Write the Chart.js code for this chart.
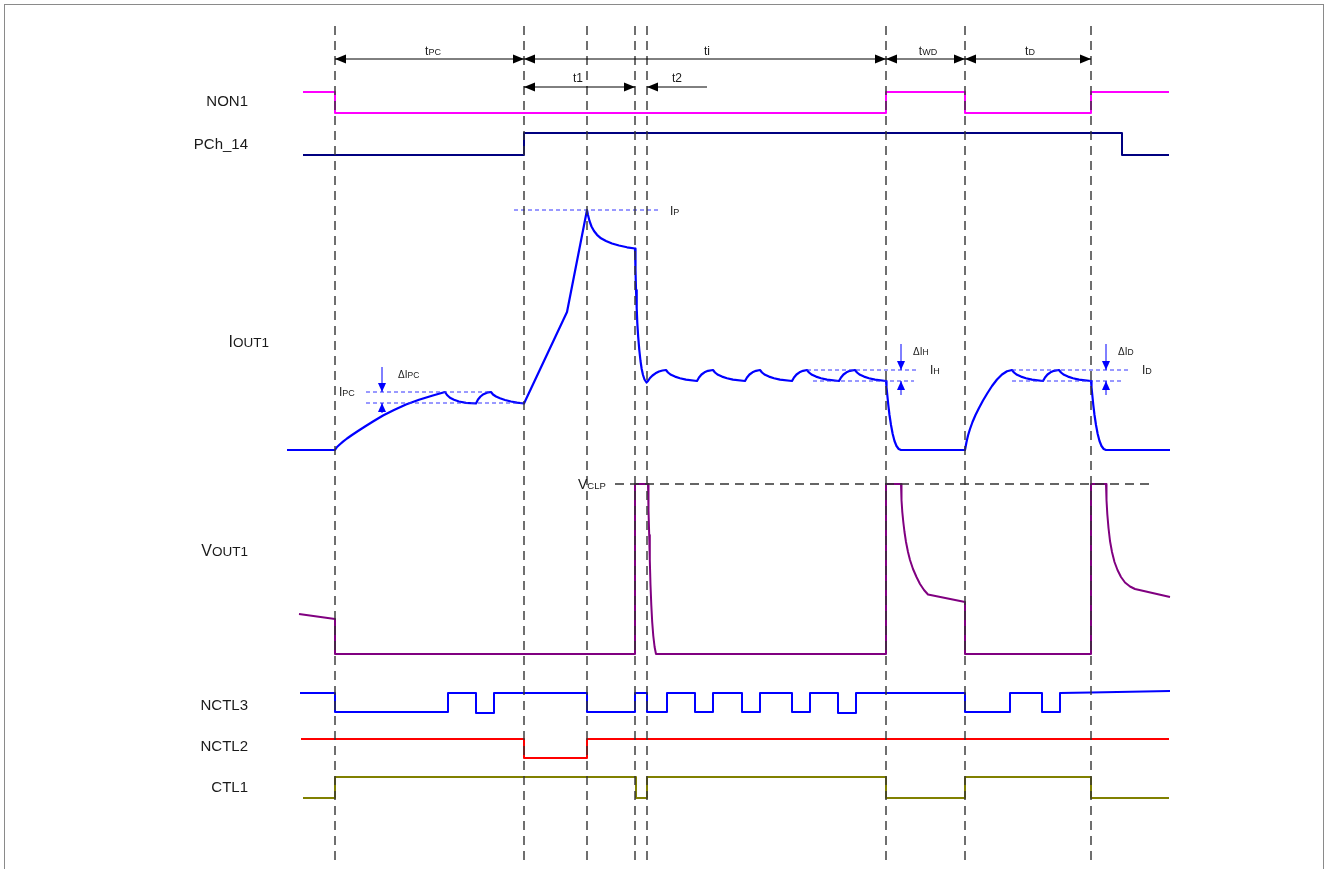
<!DOCTYPE html>
<html>
<head>
<meta charset="utf-8">
<script src="https://cdn.jsdelivr.net/npm/chart.js@4/dist/chart.umd.min.js"></script>
<style>
  html, body { margin: 0; padding: 0; background: #fff; }
  #wrap { width: 1328px; height: 869px; position: relative; }
</style>
</head>
<body>
<div id="wrap"><canvas id="timing"></canvas></div>
<script>
// timing events (dashed markers) on the time axis
const markers = [335, 524, 587, 635, 647, 886, 965, 1091];

// signal names, top to bottom
const signalNames = ['NON1', 'PCh_14', 'IOUT1', 'VOUT1', 'NCTL3', 'NCTL2', 'CTL1'];

// waveforms as [time, level] pairs (level axis grows downward)
const non1 = [[303, 92], [335, 92], [335, 113], [886, 113], [886, 92], [965, 92], [965, 113],
  [1091, 113], [1091, 92], [1169, 92]];

const pch14 = [[303, 155], [524, 155], [524, 133], [1122, 133], [1122, 155], [1169, 155]];

const iout1 = [[287, 450], [335, 450],
  [337, 447], [340, 444.3], [343, 441.7], [347, 438.5], [352, 435], [358, 431], [365, 426.5],
  [373, 421.5], [383, 415.5], [394, 410], [406, 404.5], [419, 399.7], [432, 395.7], [445, 392],
  [447, 395], [450, 397.8], [454, 399.8], [459, 401.5], [466, 402.8], [476, 403.5],
  [478, 399.5], [480.5, 396.5], [483.5, 394.2], [487, 392.7], [491, 392],
  [493, 394.5], [496, 396.5], [500, 398.3], [505, 400], [511, 401.5], [517, 402.6], [524, 403.5],
  [567, 312], [587, 210],
  [588, 215], [589.5, 221], [591.5, 226.5], [594, 231], [597, 234.8], [601, 238.3], [606, 241],
  [612, 243.5], [619, 245.5], [627, 247.3], [635, 248.5],
  [635.5, 270], [636, 290], [636.7, 308], [637.3, 323], [638.2, 337], [639.3, 350], [640.5, 361],
  [641.7, 369], [643, 375], [644.5, 379.5], [646.5, 382.5],
  [648, 381], [650, 378], [652.5, 375.5], [655.5, 373.3], [659, 371.5], [662.5, 370.5], [666, 370],
  [668, 372.5], [671, 374.8], [675, 376.6], [680, 378.2], [686, 379.6], [697, 381],
  [699, 377.5], [701.5, 374.5], [704.5, 372.3], [708, 370.8], [713, 370],
  [715, 372.5], [718, 374.8], [722, 376.6], [727, 378.2], [733, 379.6], [745, 381],
  [747, 377.5], [749.5, 374.5], [752.5, 372.3], [756, 370.8], [760, 370],
  [762, 372.5], [765, 374.8], [769, 376.6], [774, 378.2], [780, 379.6], [792, 381],
  [794, 377.5], [796.5, 374.5], [799.5, 372.3], [803, 370.8], [807, 370],
  [809, 372.5], [812, 374.8], [816, 376.6], [821, 378.2], [827, 379.6], [839, 381],
  [841, 377.5], [843.5, 374.5], [846.5, 372.3], [850, 370.8], [855, 370],
  [857, 372.5], [860, 374.8], [864, 376.6], [869, 378.2], [875, 379.6], [886, 381],
  [886.5, 387], [887.3, 395], [888.3, 405], [889.5, 415], [891, 425], [892.7, 434], [894.5, 441],
  [896.5, 446], [898.7, 449], [901, 450],
  [965, 450],
  [966.5, 442], [968, 435.5], [970, 429], [972.5, 422], [975.5, 415], [979, 408], [983, 400.5],
  [987.5, 393], [992, 386], [997, 379.5], [1002, 374.5], [1007, 371.3], [1012, 370],
  [1014, 372.5], [1017, 374.8], [1021, 376.6], [1026, 378.2], [1032, 379.6], [1043, 381],
  [1045, 377.5], [1047.5, 374.5], [1050.5, 372.3], [1054, 370.8], [1059, 370],
  [1061, 372.5], [1064, 374.8], [1068, 376.6], [1073, 378.2], [1079, 379.6], [1091, 381],
  [1091.5, 387], [1092.3, 395], [1093.3, 405], [1094.5, 415], [1096, 425], [1097.7, 434],
  [1099.5, 441], [1101.5, 446], [1103.7, 449], [1106, 450],
  [1170, 450]];

const vout1 = [[299, 614], [335, 619], [335, 654], [635, 654], [635, 484], [648, 484],
  [648.5, 510], [649.2, 535], [649.8, 560], [650.5, 585], [651.3, 605], [652.2, 622], [653.3, 636],
  [654.6, 647], [656, 654],
  [886, 654], [886, 484], [901, 484],
  [901.5, 500], [902.3, 512], [903.3, 522], [904.5, 532], [906, 542], [908, 552], [910, 560],
  [913, 569], [916.5, 577], [920, 584], [924, 590], [928, 594.5], [965, 602],
  [965, 654], [1091, 654], [1091, 484], [1106, 484],
  [1106.5, 500], [1107.3, 514], [1108.5, 528], [1110, 541], [1112, 552], [1114.5, 562],
  [1117.5, 570], [1121, 577], [1125, 582.5], [1130, 586.5], [1135, 589], [1170, 597]];

const nctl3 = [[300, 693], [335, 693], [335, 712], [448, 712], [448, 693], [476, 693], [476, 713],
  [494, 713], [494, 693], [587, 693], [587, 712], [635, 712], [635, 693], [647, 693], [647, 712],
  [667, 712], [667, 693], [695, 693], [695, 712], [713, 712], [713, 693], [742, 693], [742, 712],
  [760, 712], [760, 693], [792, 693], [792, 712], [810, 712], [810, 693], [838, 693], [838, 713],
  [856, 713], [856, 693], [965, 693], [965, 712], [1010, 712], [1010, 693], [1042, 693],
  [1042, 712], [1060, 712], [1060, 693], [1091, 692.5], [1170, 691]];

const nctl2 = [[301, 739], [524, 739], [524, 758], [587, 758], [587, 739], [1169, 739]];

const ctl1 = [[303, 798], [335, 798], [335, 777], [636, 777], [636, 798], [647, 798], [647, 777],
  [886, 777], [886, 798], [965, 798], [965, 777], [1091, 777], [1091, 798], [1169, 798]];

// reference levels
const vclpLevel = 484;
const ipLevel = 210;
const ipcLevels = [392, 403];
const ihLevels = [370, 381];
const idLevels = [370, 381];

const pts = arr => arr.map(([x, y]) => ({ x, y }));

function line(data, color, width, dash, order) {
  return {
    data: pts(data),
    showLine: true,
    borderColor: color,
    backgroundColor: color,
    borderWidth: width,
    borderDash: dash || [],
    borderJoinStyle: 'round',
    pointRadius: 0,
    fill: false,
    order: order
  };
}

const datasets = [
  ...markers.map(t => line([[t, 26], [t, 862]], '#333', 1.4, [9, 6], 0)),
  line([[615, vclpLevel], [1153, vclpLevel]], '#333', 1.4, [9, 6], 0),
  line([[514, ipLevel], [660, ipLevel]], '#3333ff', 1, [4, 3], 1),
  line([[366, ipcLevels[0]], [492, ipcLevels[0]]], '#3333ff', 1, [4, 3], 1),
  line([[366, ipcLevels[1]], [524, ipcLevels[1]]], '#3333ff', 1, [4, 3], 1),
  line([[807, ihLevels[0]], [917, ihLevels[0]]], '#3333ff', 1, [4, 3], 1),
  line([[813, ihLevels[1]], [914, ihLevels[1]]], '#3333ff', 1, [4, 3], 1),
  line([[1012, idLevels[0]], [1129, idLevels[0]]], '#3333ff', 1, [4, 3], 1),
  line([[1012, idLevels[1]], [1121, idLevels[1]]], '#3333ff', 1, [4, 3], 1),
  line(non1, '#ff00ff', 2, null, 2),
  line(pch14, '#000080', 2, null, 2),
  line(iout1, '#0000ff', 2.2, null, 2),
  line(vout1, '#800080', 2, null, 2),
  line(nctl3, '#0000ff', 2, null, 2),
  line(nctl2, '#ff0000', 2, null, 2),
  line(ctl1, '#808000', 2, null, 2)
];

const FONT = '"Liberation Sans", Arial, sans-serif';

function arrowHead(ctx, x1, y1, x2, y2, len, half, color) {
  const a = Math.atan2(y2 - y1, x2 - x1);
  ctx.save();
  ctx.fillStyle = color;
  ctx.beginPath();
  ctx.moveTo(x2, y2);
  ctx.lineTo(x2 - len * Math.cos(a) + half * Math.sin(a), y2 - len * Math.sin(a) - half * Math.cos(a));
  ctx.lineTo(x2 - len * Math.cos(a) - half * Math.sin(a), y2 - len * Math.sin(a) + half * Math.cos(a));
  ctx.closePath();
  ctx.fill();
  ctx.restore();
}

// text with a smaller trailing part (subscript look)
function subText(ctx, x, y, main, sub, mSize, sSize, align) {
  ctx.font = mSize + 'px ' + FONT;
  const wm = ctx.measureText(main).width;
  ctx.font = sSize + 'px ' + FONT;
  const ws = ctx.measureText(sub).width;
  let left = x;
  if (align === 'center') left = x - (wm + ws) / 2;
  if (align === 'right') left = x - (wm + ws);
  ctx.textAlign = 'left';
  ctx.textBaseline = 'alphabetic';
  ctx.font = mSize + 'px ' + FONT;
  ctx.fillText(main, left, y + mSize * 0.36);
  ctx.font = sSize + 'px ' + FONT;
  ctx.fillText(sub, left + wm, y + mSize * 0.36);
}

const annotations = {
  id: 'annotations',
  beforeDraw(chart) {
    const { ctx } = chart;
    ctx.save();
    ctx.strokeStyle = '#8a8a8a';
    ctx.lineWidth = 1;
    ctx.strokeRect(4.5, 4.5, 1319, 880);
    ctx.restore();
  },
  afterDatasetsDraw(chart) {
    const { ctx, scales: { x, y } } = chart;
    const px = v => x.getPixelForValue(v);
    const py = v => y.getPixelForValue(v);
    ctx.save();

    // time span arrows
    const spans = [
      [335, 524, 59, true], [524, 886, 59, true], [886, 965, 59, true], [965, 1091, 59, true],
      [524, 635, 87, true], [707, 647, 87, false]
    ];
    ctx.strokeStyle = '#000';
    ctx.lineWidth = 1;
    spans.forEach(([a, b, lv, both]) => {
      ctx.beginPath();
      ctx.moveTo(px(a), py(lv));
      ctx.lineTo(px(b), py(lv));
      ctx.stroke();
      arrowHead(ctx, px(a), py(lv), px(b), py(lv), 11, 4.5, '#000');
      if (both) arrowHead(ctx, px(b), py(lv), px(a), py(lv), 11, 4.5, '#000');
    });

    // delta arrows (blue)
    const deltas = [[382, 367, 392, 403, 413], [901, 344, 370, 381, 395], [1106, 344, 370, 381, 395]];
    ctx.strokeStyle = '#0000ff';
    deltas.forEach(([dx, t0, t1, b1, b0]) => {
      ctx.beginPath();
      ctx.moveTo(px(dx), py(t0));
      ctx.lineTo(px(dx), py(t1));
      ctx.moveTo(px(dx), py(b1));
      ctx.lineTo(px(dx), py(b0));
      ctx.stroke();
      arrowHead(ctx, px(dx), py(t0), px(dx), py(t1), 9, 4, '#0000ff');
      arrowHead(ctx, px(dx), py(b0), px(dx), py(b1), 9, 4, '#0000ff');
    });

    ctx.fillStyle = '#1a1a1a';
    // signal names
    const nameAt = [[248, 101], [248, 144], [269, 341], [248, 550], [248, 705], [248, 746], [248, 787]];
    signalNames.forEach((n, i) => {
      const [lx, ly] = nameAt[i];
      if (n === 'IOUT1' || n === 'VOUT1') {
        subText(ctx, px(lx), py(ly), n[0], n.slice(1), 16, 13.5, 'right');
      } else {
        subText(ctx, px(lx), py(ly), n, '', 15, 15, 'right');
      }
    });

    // span labels
    subText(ctx, px(433), py(51), 't', 'PC', 12, 9, 'center');
    subText(ctx, px(707), py(51), 'ti', '', 12, 9, 'center');
    subText(ctx, px(928), py(51), 't', 'WD', 12, 9, 'center');
    subText(ctx, px(1030), py(51), 't', 'D', 12, 9, 'center');
    subText(ctx, px(578), py(78), 't1', '', 12, 9, 'center');
    subText(ctx, px(677), py(78), 't2', '', 12, 9, 'center');

    // level labels
    subText(ctx, px(398), py(374), '\u0394I', 'PC', 10, 8.5, 'left');
    subText(ctx, px(339), py(392), 'I', 'PC', 12, 9, 'left');
    subText(ctx, px(670), py(211), 'I', 'P', 12, 9, 'left');
    subText(ctx, px(913), py(351), '\u0394I', 'H', 10, 8.5, 'left');
    subText(ctx, px(930), py(370), 'I', 'H', 12, 9, 'left');
    subText(ctx, px(1118), py(351), '\u0394I', 'D', 10, 8.5, 'left');
    subText(ctx, px(1142), py(370), 'I', 'D', 12, 9, 'left');
    subText(ctx, px(578), py(484), 'V', 'CLP', 14, 9.5, 'left');

    ctx.restore();
  }
};

new Chart(document.getElementById('timing'), {
  type: 'scatter',
  data: { datasets },
  options: {
    responsive: true,
    maintainAspectRatio: false,
    animation: false,
    layout: { padding: 0 },
    plugins: { legend: { display: false }, tooltip: { enabled: false } },
    scales: {
      x: { type: 'linear', min: 0, max: 1328, display: false },
      y: { type: 'linear', min: 0, max: 869, reverse: true, display: false }
    }
  },
  plugins: [annotations]
});
</script>
</body>
</html>
